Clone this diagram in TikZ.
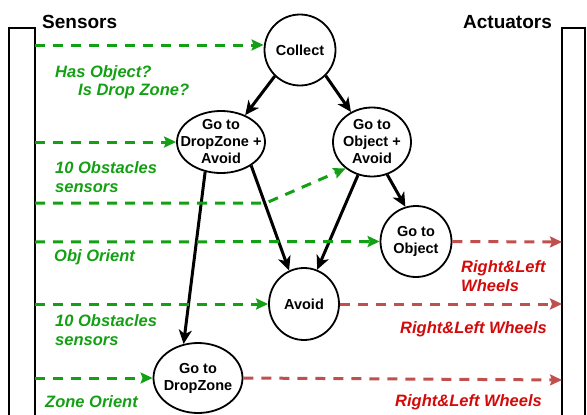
\documentclass[tikz,border=0pt]{standalone}
\usepackage{fontspec}
\setmainfont{Liberation Sans}
\usetikzlibrary{arrows.meta,positioning,shapes.geometric}
\definecolor{sensegreen}{RGB}{20,160,20}
\definecolor{actred}{RGB}{192,80,77}
\definecolor{wheelred}{RGB}{210,10,10}
\tikzset{
  bh/statetext/.style={inner sep=0pt, align=center, font=\fontsize{14.5}{17}\selectfont\bfseries},
  bh/state/.style={draw, ellipse, line width=1.8pt, inner sep=0pt, label={[bh/statetext]center:#1}},
  bh/bar/.style={line width=1.8pt},
  bh/head/.style={anchor=west, inner sep=0pt, font=\fontsize{19}{22}\selectfont\bfseries},
  bh/link/.style={line width=3pt, -{Stealth[length=14pt,width=13pt,inset=4pt]}},
  bh/sense/.style={color=sensegreen, line width=3pt, dash pattern=on 10pt off 8pt,
    -{Stealth[length=12pt,width=11pt,inset=2pt]}},
  bh/act/.style={bh/sense, color=actred},
  bh/senselabel/.style={anchor=west, inner sep=0pt, align=left, text=sensegreen,
    font=\fontsize{16.5}{18.5}\selectfont\bfseries\itshape},
  bh/actlabel/.style={bh/senselabel, text=wheelred, font=\fontsize{16.5}{19.5}\selectfont\bfseries\itshape}
}
\begin{document}
\begin{tikzpicture}[x=1pt, y=-1pt]
  \useasboundingbox (0,0) rectangle (587,415);
  \clip (0,0) rectangle (587,415);

  % sensor and actuator bars
  \draw[bh/bar] (9,430) |- (35,28) -- (35,430);
  \draw[bh/bar] (562,430) |- (585,28) -- (585,430);
  \node[bh/head] (sensors) at (42,22) {Sensors};
  \node[bh/head] (actuators) at (463,22) {Actuators};

  % ports on the bars
  \foreach \y [count=\i] in {45,142,203,242,304,378}
    \coordinate (s\i) at (35,\y);
  \coordinate (a1) at (562,242);
  \coordinate (a2) at (562,304);
  \coordinate (a3) at (562,380);

  % behaviours
  \node[bh/state={Collect}, minimum width=71pt, minimum height=71pt] (collect) at (300,50) {};
  \node[bh/state={Go to\\DropZone +\\Avoid}, minimum width=88pt, minimum height=62pt] (dza) at (221,142) {};
  \node[bh/state={Go to\\Object +\\Avoid}, minimum width=78pt, minimum height=69pt] (oa) at (372,142) {};
  \node[bh/state={Go to\\Object}, minimum width=71pt, minimum height=71pt] (gobj) at (416,241.5) {};
  \node[bh/state={Avoid}, minimum width=70pt, minimum height=72pt] (avoid) at (304,304) {};
  \node[bh/state={Go to\\DropZone}, minimum width=89pt, minimum height=70pt] (gdz) at (198,378) {};

  % activation links
  \draw[bh/link] (collect.226) -- (dza.48);
  \draw[bh/link] (collect.315) -- (oa.125);
  \draw[bh/link] (dza.242) -- (gdz.113);
  \draw[bh/link] (dza.322) -- (avoid.114);
  \draw[bh/link] (oa.247) -- (avoid.69);
  \draw[bh/link] (oa.295) -- (gobj.107);

  % sensor inputs
  \draw[bh/sense] (s1) -- (s1 -| collect.west);
  \draw[bh/sense] (s2) -- (dza.west);
  \draw[bh/sense] (s3) -- (s3 -| dza.east) -- (oa.225);
  \draw[bh/sense] (s4) -- (gobj.west);
  \draw[bh/sense] (s5) -- (avoid.west);
  \draw[bh/sense] (s6) -- (gdz.west);

  \node[bh/senselabel] (lhas) at (55,82) {Has Object?\\\hspace*{23pt}Is Drop Zone?};
  \node[bh/senselabel] (lobs1) at (55,177) {10 Obstacles\\sensors};
  \node[bh/senselabel] (lobj) at (54,257) {Obj Orient};
  \node[bh/senselabel] (lobs2) at (55,330) {10 Obstacles\\sensors};
  \node[bh/senselabel] (lzone) at (45,402) {Zone Orient};

  % actuator outputs
  \draw[bh/act] (gobj.east) -- (a1);
  \draw[bh/act] (avoid.east) -- (a2);
  \draw[bh/act] (gdz.east) -- (a3);

  \node[bh/actlabel] (lw1) at (461,276) {Right\&Left\\Wheels};
  \node[bh/actlabel] (lw2) at (400,329) {Right\&Left Wheels};
  \node[bh/actlabel] (lw3) at (395,402) {Right\&Left Wheels};
\end{tikzpicture}
\end{document}
